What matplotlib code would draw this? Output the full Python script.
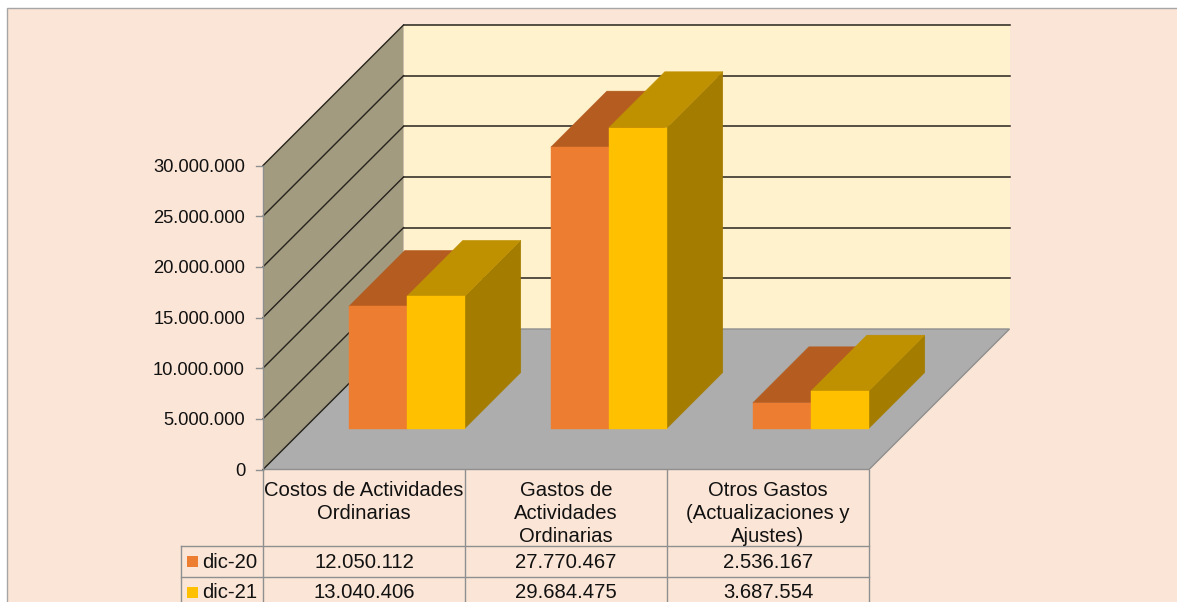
import matplotlib
matplotlib.use('Agg')
import matplotlib.pyplot as plt
from matplotlib.patches import Polygon, Rectangle

plt.rcParams['font.family'] = ['Liberation Sans', 'DejaVu Sans']

# data
categories = ['Costos de Actividades\nOrdinarias',
              'Gastos de\nActividades\nOrdinarias',
              'Otros Gastos\n(Actualizaciones y\nAjustes)']
series_names = ['dic-20', 'dic-21']
dic_20 = [12050112, 27770467, 2536167]
dic_21 = [13040406, 29684475, 3687554]
value_ticks = [0, 5000000, 10000000, 15000000, 20000000, 25000000, 30000000]

# colours: front, top, side
col_bg = '#FBE5D6'
col_line = '#8F8F8F'
col_grid = '#26231C'
col_text = '#111111'
col_series = [('#ED7D31', '#B55D20', '#A0561F'), ('#FFC000', '#BF9000', '#A37C00')]

# oblique projection of the 3d box on the pixel grid
x0, y0 = 263, 469.5
cat_w = 202
depth = 140.5
px_per_val = 304 / 30000000
bar_w = 58
bar_depth = 56
bar_base = 41
bar_margin = 44.8
fs_tick = 13.2
fs_table = 14.6


def proj(cat_x, val, d):
    return x0 + cat_x + d, y0 - val * px_per_val - d


def fmt(v):
    return f'{v:,}'.replace(',', '.')


def box(ax, left, val, cols, z):
    right = left + bar_w
    d0, d1 = bar_base, bar_base + bar_depth
    front = [proj(left, 0, d0), proj(right, 0, d0), proj(right, val, d0), proj(left, val, d0)]
    top = [proj(left, val, d0), proj(right, val, d0), proj(right, val, d1), proj(left, val, d1)]
    side = [proj(right, 0, d0), proj(right, 0, d1), proj(right, val, d1), proj(right, val, d0)]
    for pts, c in zip((side, top, front), (cols[2], cols[1], cols[0])):
        ax.add_patch(Polygon(pts, closed=True, fc=c, ec=c, lw=0.3, zorder=z))


fig = plt.figure(figsize=(11.77, 6.02), dpi=100, facecolor='white')
ax = fig.add_axes([0, 0, 1, 1])
ax.set_xlim(0, 1177)
ax.set_ylim(602, 0)
ax.axis('off')

# outer chart area
ax.add_patch(Rectangle((6.5, 8), 1180, 610, fc=col_bg, ec='#A6A6A6', lw=1, zorder=0))

width = cat_w * len(categories)
top_val = value_ticks[-1]

# walls and floor
ax.add_patch(Polygon([proj(0, 0, depth), proj(width, 0, depth), proj(width, top_val, depth),
                      proj(0, top_val, depth)], closed=True, fc='#FFF2CC', ec='none', zorder=1))
ax.add_patch(Polygon([proj(0, 0, 0), proj(0, 0, depth), proj(0, top_val, depth),
                      proj(0, top_val, 0)], closed=True, fc='#A39B80', ec='none', zorder=1))
ax.add_patch(Polygon([proj(0, 0, 0), proj(width, 0, 0), proj(width, 0, depth),
                      proj(0, 0, depth)], closed=True, fc='#ADADAD', ec=col_line, lw=1, zorder=2))

# gridlines and value axis
for v in value_ticks:
    xa, ya = proj(0, v, 0)
    xb, yb = proj(0, v, depth)
    xc, yc = proj(width, v, depth)
    ax.plot([xa, xb], [ya, yb], color=col_grid, lw=1.0, zorder=3)
    if v:
        ax.plot([xb, xc], [yb, yc], color=col_grid, lw=1.1, zorder=3)
    ax.plot([xa - 7, xa], [ya, ya], color=col_line, lw=1, zorder=3)
    ax.text(245, ya + 2, fmt(v), ha='right', va='center', fontsize=fs_tick, color=col_text)
ax.plot([x0, x0], [proj(0, 0, 0)[1], proj(0, top_val, 0)[1]], color=col_line, lw=1, zorder=3)

# bars
for i in range(len(categories)):
    left = i * cat_w + bar_margin
    box(ax, left, dic_20[i], col_series[0], 4)
    box(ax, left + bar_w, dic_21[i], col_series[1], 5)

# data table
row_y = [546, 577, 608]
for i in range(len(categories) + 1):
    ax.plot([x0 + i * cat_w] * 2, [y0, 602], color=col_line, lw=1, zorder=3)
ax.plot([181, 181], [row_y[0], 602], color=col_line, lw=1, zorder=3)
for y in row_y[:2]:
    ax.plot([181, x0 + width], [y, y], color=col_line, lw=1, zorder=3)

for i, label in enumerate(categories):
    ax.text(x0 + (i + 0.5) * cat_w, 480.5, label, ha='center', va='top', fontsize=fs_table,
            color=col_text, linespacing=1.3)
    ax.text(x0 + (i + 0.5) * cat_w, 562, fmt(dic_20[i]), ha='center', va='center',
            fontsize=fs_table, color=col_text)
    ax.text(x0 + (i + 0.5) * cat_w, 593, fmt(dic_21[i]), ha='center', va='center',
            fontsize=fs_table, color=col_text)

for j, name in enumerate(series_names):
    yc = (row_y[j] + row_y[j + 1]) / 2
    ax.add_patch(Rectangle((187, yc - 5.5), 11, 11, fc=col_series[j][0], ec='none', zorder=4))
    ax.text(202, yc + 0.5, name, ha='left', va='center', fontsize=fs_table, color=col_text)

fig.savefig('out.png', dpi=100)
